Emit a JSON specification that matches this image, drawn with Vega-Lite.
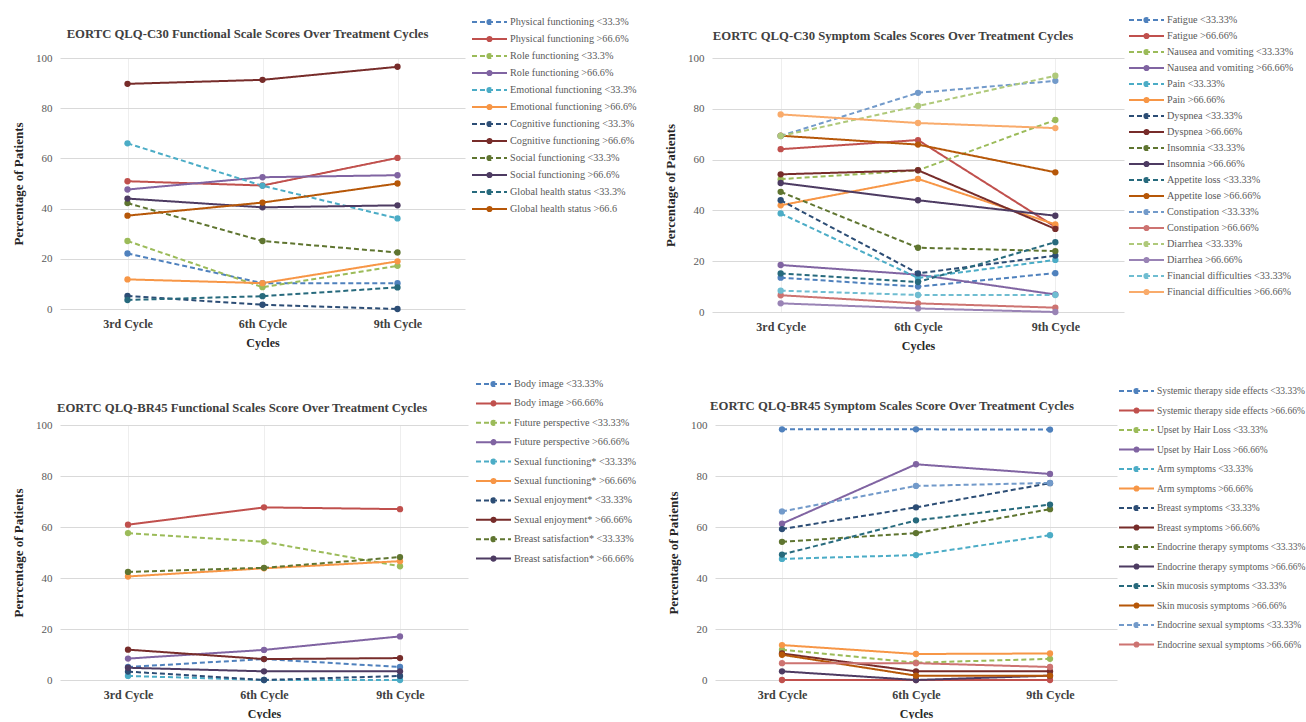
{
  "$schema": "https://vega.github.io/schema/vega-lite/v6.json",
  "background": "white",
  "padding": {"left": 12, "top": 14, "right": 0, "bottom": 0},
  "config": {
    "font": "Liberation Serif",
    "view": {"stroke": null},
    "axis": {"labelFont": "Liberation Serif", "labelFontSize": 11, "labelColor": "#595959", "titleFont": "Liberation Serif", "titleFontSize": 12, "titleFontWeight": "bold", "titleColor": "#262626", "gridColor": "#d9d9d9", "domain": false, "ticks": false},
    "axisX": {"labelFontWeight": "bold", "labelFontSize": 12, "labelColor": "#404040", "labelAngle": 0, "labelPadding": 9, "titlePadding": 8, "gridColor": "#eeeeee", "grid": true, "tickBand": "extent"},
    "axisY": {"labelPadding": 8, "titlePadding": 10, "titleFontSize": 13},
    "title": {"font": "Liberation Serif", "fontSize": 12.7, "fontWeight": "bold", "color": "#404040"},
    "legend": {"orient": "none", "title": null, "labelFont": "Liberation Serif", "labelFontSize": 10.2, "labelColor": "#595959", "symbolStrokeWidth": 2, "symbolSize": 1225, "clipHeight": 12, "labelOffset": 2, "padding": 0}
  },
  "datasets": {
    "p1": [
      {"series": "Physical functioning <33.3%", "cycle": "3rd Cycle", "value": 22.1}, {"series": "Physical functioning <33.3%", "cycle": "6th Cycle", "value": 10.3}, {"series": "Physical functioning <33.3%", "cycle": "9th Cycle", "value": 10.3},
      {"series": "Physical functioning >66.6%", "cycle": "3rd Cycle", "value": 50.9}, {"series": "Physical functioning >66.6%", "cycle": "6th Cycle", "value": 49.2}, {"series": "Physical functioning >66.6%", "cycle": "9th Cycle", "value": 60.2},
      {"series": "Role functioning <33.3%", "cycle": "3rd Cycle", "value": 27.1}, {"series": "Role functioning <33.3%", "cycle": "6th Cycle", "value": 8.7}, {"series": "Role functioning <33.3%", "cycle": "9th Cycle", "value": 17.2},
      {"series": "Role functioning >66.6%", "cycle": "3rd Cycle", "value": 47.6}, {"series": "Role functioning >66.6%", "cycle": "6th Cycle", "value": 52.5}, {"series": "Role functioning >66.6%", "cycle": "9th Cycle", "value": 53.3},
      {"series": "Emotional functioning <33.3%", "cycle": "3rd Cycle", "value": 66.0}, {"series": "Emotional functioning <33.3%", "cycle": "6th Cycle", "value": 49.1}, {"series": "Emotional functioning <33.3%", "cycle": "9th Cycle", "value": 36.1},
      {"series": "Emotional functioning >66.6%", "cycle": "3rd Cycle", "value": 11.8}, {"series": "Emotional functioning >66.6%", "cycle": "6th Cycle", "value": 10.3}, {"series": "Emotional functioning >66.6%", "cycle": "9th Cycle", "value": 19.0},
      {"series": "Cognitive functioning <33.3%", "cycle": "3rd Cycle", "value": 5.2}, {"series": "Cognitive functioning <33.3%", "cycle": "6th Cycle", "value": 1.7}, {"series": "Cognitive functioning <33.3%", "cycle": "9th Cycle", "value": 0},
      {"series": "Cognitive functioning >66.6%", "cycle": "3rd Cycle", "value": 89.7}, {"series": "Cognitive functioning >66.6%", "cycle": "6th Cycle", "value": 91.3}, {"series": "Cognitive functioning >66.6%", "cycle": "9th Cycle", "value": 96.5},
      {"series": "Social functioning <33.3%", "cycle": "3rd Cycle", "value": 42.2}, {"series": "Social functioning <33.3%", "cycle": "6th Cycle", "value": 27.1}, {"series": "Social functioning <33.3%", "cycle": "9th Cycle", "value": 22.5},
      {"series": "Social functioning >66.6%", "cycle": "3rd Cycle", "value": 44.0}, {"series": "Social functioning >66.6%", "cycle": "6th Cycle", "value": 40.5}, {"series": "Social functioning >66.6%", "cycle": "9th Cycle", "value": 41.3},
      {"series": "Global health status <33.3%", "cycle": "3rd Cycle", "value": 3.6}, {"series": "Global health status <33.3%", "cycle": "6th Cycle", "value": 5.1}, {"series": "Global health status <33.3%", "cycle": "9th Cycle", "value": 8.6},
      {"series": "Global health status >66.6", "cycle": "3rd Cycle", "value": 37.2}, {"series": "Global health status >66.6", "cycle": "6th Cycle", "value": 42.4}, {"series": "Global health status >66.6", "cycle": "9th Cycle", "value": 50.0}
    ],
    "p2": [
      {"series": "Fatigue <33.33%", "cycle": "3rd Cycle", "value": 13.5}, {"series": "Fatigue <33.33%", "cycle": "6th Cycle", "value": 10.0}, {"series": "Fatigue <33.33%", "cycle": "9th Cycle", "value": 15.3},
      {"series": "Fatigue >66.66%", "cycle": "3rd Cycle", "value": 64.1}, {"series": "Fatigue >66.66%", "cycle": "6th Cycle", "value": 67.7}, {"series": "Fatigue >66.66%", "cycle": "9th Cycle", "value": 33.5},
      {"series": "Nausea and vomiting <33.33%", "cycle": "3rd Cycle", "value": 52.3}, {"series": "Nausea and vomiting <33.33%", "cycle": "6th Cycle", "value": 55.8}, {"series": "Nausea and vomiting <33.33%", "cycle": "9th Cycle", "value": 75.6},
      {"series": "Nausea and vomiting >66.66%", "cycle": "3rd Cycle", "value": 18.5}, {"series": "Nausea and vomiting >66.66%", "cycle": "6th Cycle", "value": 14.7}, {"series": "Nausea and vomiting >66.66%", "cycle": "9th Cycle", "value": 6.9},
      {"series": "Pain <33.33%", "cycle": "3rd Cycle", "value": 38.8}, {"series": "Pain <33.33%", "cycle": "6th Cycle", "value": 13.4}, {"series": "Pain <33.33%", "cycle": "9th Cycle", "value": 20.5},
      {"series": "Pain >66.66%", "cycle": "3rd Cycle", "value": 42.0}, {"series": "Pain >66.66%", "cycle": "6th Cycle", "value": 52.4}, {"series": "Pain >66.66%", "cycle": "9th Cycle", "value": 34.5},
      {"series": "Dyspnea <33.33%", "cycle": "3rd Cycle", "value": 44.0}, {"series": "Dyspnea <33.33%", "cycle": "6th Cycle", "value": 15.2}, {"series": "Dyspnea <33.33%", "cycle": "9th Cycle", "value": 22.2},
      {"series": "Dyspnea >66.66%", "cycle": "3rd Cycle", "value": 54.2}, {"series": "Dyspnea >66.66%", "cycle": "6th Cycle", "value": 55.8}, {"series": "Dyspnea >66.66%", "cycle": "9th Cycle", "value": 32.7},
      {"series": "Insomnia <33.33%", "cycle": "3rd Cycle", "value": 47.3}, {"series": "Insomnia <33.33%", "cycle": "6th Cycle", "value": 25.3}, {"series": "Insomnia <33.33%", "cycle": "9th Cycle", "value": 24.0},
      {"series": "Insomnia >66.66%", "cycle": "3rd Cycle", "value": 50.8}, {"series": "Insomnia >66.66%", "cycle": "6th Cycle", "value": 44.0}, {"series": "Insomnia >66.66%", "cycle": "9th Cycle", "value": 37.9},
      {"series": "Appetite loss <33.33%", "cycle": "3rd Cycle", "value": 15.2}, {"series": "Appetite loss <33.33%", "cycle": "6th Cycle", "value": 11.8}, {"series": "Appetite loss <33.33%", "cycle": "9th Cycle", "value": 27.5},
      {"series": "Appetite lose >66.66%", "cycle": "3rd Cycle", "value": 69.4}, {"series": "Appetite lose >66.66%", "cycle": "6th Cycle", "value": 65.9}, {"series": "Appetite lose >66.66%", "cycle": "9th Cycle", "value": 55.0},
      {"series": "Constipation <33.33%", "cycle": "3rd Cycle", "value": 69.3}, {"series": "Constipation <33.33%", "cycle": "6th Cycle", "value": 86.3}, {"series": "Constipation <33.33%", "cycle": "9th Cycle", "value": 91.0},
      {"series": "Constipation >66.66%", "cycle": "3rd Cycle", "value": 6.6}, {"series": "Constipation >66.66%", "cycle": "6th Cycle", "value": 3.4}, {"series": "Constipation >66.66%", "cycle": "9th Cycle", "value": 1.7},
      {"series": "Diarrhea <33.33%", "cycle": "3rd Cycle", "value": 69.3}, {"series": "Diarrhea <33.33%", "cycle": "6th Cycle", "value": 81.1}, {"series": "Diarrhea <33.33%", "cycle": "9th Cycle", "value": 93.0},
      {"series": "Diarrhea >66.66%", "cycle": "3rd Cycle", "value": 3.4}, {"series": "Diarrhea >66.66%", "cycle": "6th Cycle", "value": 1.4}, {"series": "Diarrhea >66.66%", "cycle": "9th Cycle", "value": 0},
      {"series": "Financial difficulties <33.33%", "cycle": "3rd Cycle", "value": 8.4}, {"series": "Financial difficulties <33.33%", "cycle": "6th Cycle", "value": 6.7}, {"series": "Financial difficulties <33.33%", "cycle": "9th Cycle", "value": 6.7},
      {"series": "Financial difficulties >66.66%", "cycle": "3rd Cycle", "value": 77.8}, {"series": "Financial difficulties >66.66%", "cycle": "6th Cycle", "value": 74.4}, {"series": "Financial difficulties >66.66%", "cycle": "9th Cycle", "value": 72.4}
    ],
    "p3": [
      {"series": "Body image <33.33%", "cycle": "3rd Cycle", "value": 5.1}, {"series": "Body image <33.33%", "cycle": "6th Cycle", "value": 8.2}, {"series": "Body image <33.33%", "cycle": "9th Cycle", "value": 5.1},
      {"series": "Body image >66.66%", "cycle": "3rd Cycle", "value": 60.9}, {"series": "Body image >66.66%", "cycle": "6th Cycle", "value": 67.7}, {"series": "Body image >66.66%", "cycle": "9th Cycle", "value": 67.0},
      {"series": "Future perspective <33.33%", "cycle": "3rd Cycle", "value": 57.6}, {"series": "Future perspective <33.33%", "cycle": "6th Cycle", "value": 54.2}, {"series": "Future perspective <33.33%", "cycle": "9th Cycle", "value": 44.6},
      {"series": "Future perspective >66.66%", "cycle": "3rd Cycle", "value": 8.4}, {"series": "Future perspective >66.66%", "cycle": "6th Cycle", "value": 11.8}, {"series": "Future perspective >66.66%", "cycle": "9th Cycle", "value": 17.1},
      {"series": "Sexual functioning* <33.33%", "cycle": "3rd Cycle", "value": 1.6}, {"series": "Sexual functioning* <33.33%", "cycle": "6th Cycle", "value": 0}, {"series": "Sexual functioning* <33.33%", "cycle": "9th Cycle", "value": 0},
      {"series": "Sexual functioning* >66.66%", "cycle": "3rd Cycle", "value": 40.6}, {"series": "Sexual functioning* >66.66%", "cycle": "6th Cycle", "value": 43.8}, {"series": "Sexual functioning* >66.66%", "cycle": "9th Cycle", "value": 46.6},
      {"series": "Sexual enjoyment* <33.33%", "cycle": "3rd Cycle", "value": 3.3}, {"series": "Sexual enjoyment* <33.33%", "cycle": "6th Cycle", "value": 0}, {"series": "Sexual enjoyment* <33.33%", "cycle": "9th Cycle", "value": 1.6},
      {"series": "Sexual enjoyment* >66.66%", "cycle": "3rd Cycle", "value": 11.9}, {"series": "Sexual enjoyment* >66.66%", "cycle": "6th Cycle", "value": 8.2}, {"series": "Sexual enjoyment* >66.66%", "cycle": "9th Cycle", "value": 8.6},
      {"series": "Breast satisfaction* <33.33%", "cycle": "3rd Cycle", "value": 42.4}, {"series": "Breast satisfaction* <33.33%", "cycle": "6th Cycle", "value": 44.0}, {"series": "Breast satisfaction* <33.33%", "cycle": "9th Cycle", "value": 48.2},
      {"series": "Breast satisfaction* >66.66%", "cycle": "3rd Cycle", "value": 4.8}, {"series": "Breast satisfaction* >66.66%", "cycle": "6th Cycle", "value": 3.4}, {"series": "Breast satisfaction* >66.66%", "cycle": "9th Cycle", "value": 3.4}
    ],
    "p4": [
      {"series": "Systemic therapy side effects <33.33%", "cycle": "3rd Cycle", "value": 98.3}, {"series": "Systemic therapy side effects <33.33%", "cycle": "6th Cycle", "value": 98.3}, {"series": "Systemic therapy side effects <33.33%", "cycle": "9th Cycle", "value": 98.2},
      {"series": "Systemic therapy side effects >66.66%", "cycle": "3rd Cycle", "value": 0}, {"series": "Systemic therapy side effects >66.66%", "cycle": "6th Cycle", "value": 0}, {"series": "Systemic therapy side effects >66.66%", "cycle": "9th Cycle", "value": 0},
      {"series": "Upset by Hair Loss <33.33%", "cycle": "3rd Cycle", "value": 11.9}, {"series": "Upset by Hair Loss <33.33%", "cycle": "6th Cycle", "value": 6.8}, {"series": "Upset by Hair Loss <33.33%", "cycle": "9th Cycle", "value": 8.3},
      {"series": "Upset by Hair Loss >66.66%", "cycle": "3rd Cycle", "value": 61.3}, {"series": "Upset by Hair Loss >66.66%", "cycle": "6th Cycle", "value": 84.6}, {"series": "Upset by Hair Loss >66.66%", "cycle": "9th Cycle", "value": 80.8},
      {"series": "Arm symptoms <33.33%", "cycle": "3rd Cycle", "value": 47.5}, {"series": "Arm symptoms <33.33%", "cycle": "6th Cycle", "value": 49.0}, {"series": "Arm symptoms <33.33%", "cycle": "9th Cycle", "value": 56.8},
      {"series": "Arm symptoms >66.66%", "cycle": "3rd Cycle", "value": 13.7}, {"series": "Arm symptoms >66.66%", "cycle": "6th Cycle", "value": 10.2}, {"series": "Arm symptoms >66.66%", "cycle": "9th Cycle", "value": 10.4},
      {"series": "Breast symptoms <33.33%", "cycle": "3rd Cycle", "value": 59.2}, {"series": "Breast symptoms <33.33%", "cycle": "6th Cycle", "value": 67.7}, {"series": "Breast symptoms <33.33%", "cycle": "9th Cycle", "value": 77.2},
      {"series": "Breast symptoms >66.66%", "cycle": "3rd Cycle", "value": 10.4}, {"series": "Breast symptoms >66.66%", "cycle": "6th Cycle", "value": 3.4}, {"series": "Breast symptoms >66.66%", "cycle": "9th Cycle", "value": 3.4},
      {"series": "Endocrine therapy symptoms <33.33%", "cycle": "3rd Cycle", "value": 54.2}, {"series": "Endocrine therapy symptoms <33.33%", "cycle": "6th Cycle", "value": 57.6}, {"series": "Endocrine therapy symptoms <33.33%", "cycle": "9th Cycle", "value": 67.0},
      {"series": "Endocrine therapy symptoms >66.66%", "cycle": "3rd Cycle", "value": 3.4}, {"series": "Endocrine therapy symptoms >66.66%", "cycle": "6th Cycle", "value": 0}, {"series": "Endocrine therapy symptoms >66.66%", "cycle": "9th Cycle", "value": 1.7},
      {"series": "Skin mucosis symptoms <33.33%", "cycle": "3rd Cycle", "value": 49.2}, {"series": "Skin mucosis symptoms <33.33%", "cycle": "6th Cycle", "value": 62.6}, {"series": "Skin mucosis symptoms <33.33%", "cycle": "9th Cycle", "value": 68.8},
      {"series": "Skin mucosis symptoms >66.66%", "cycle": "3rd Cycle", "value": 9.9}, {"series": "Skin mucosis symptoms >66.66%", "cycle": "6th Cycle", "value": 1.7}, {"series": "Skin mucosis symptoms >66.66%", "cycle": "9th Cycle", "value": 1.7},
      {"series": "Endocrine sexual symptoms <33.33%", "cycle": "3rd Cycle", "value": 66.1}, {"series": "Endocrine sexual symptoms <33.33%", "cycle": "6th Cycle", "value": 76.1}, {"series": "Endocrine sexual symptoms <33.33%", "cycle": "9th Cycle", "value": 77.3},
      {"series": "Endocrine sexual symptoms >66.66%", "cycle": "3rd Cycle", "value": 6.6}, {"series": "Endocrine sexual symptoms >66.66%", "cycle": "6th Cycle", "value": 6.6}, {"series": "Endocrine sexual symptoms >66.66%", "cycle": "9th Cycle", "value": 5.1}
    ]
  },
  "resolve": {"scale": {"color": "independent", "strokeDash": "independent"}, "legend": {"color": "independent", "strokeDash": "independent"}},
  "spacing": 27,
  "vconcat": [
    {
      "spacing": 27,
      "resolve": {"scale": {"color": "independent", "strokeDash": "independent"}, "legend": {"color": "independent", "strokeDash": "independent"}},
      "hconcat": [
        {
          "width": 405, "height": 251,
          "title": {"text": "EORTC QLQ-C30 Functional Scale Scores Over Treatment Cycles", "offset": -25, "dx": -15},
          "data": {"name": "p1"},
          "mark": {"type": "line", "strokeWidth": 2, "point": {"filled": true, "size": 40}},
          "encoding": {
            "x": {"field": "cycle", "type": "ordinal", "sort": ["3rd Cycle", "6th Cycle", "9th Cycle"], "scale": {"paddingInner": 0, "paddingOuter": 0}, "axis": {"title": "Cycles"}},
            "y": {"field": "value", "type": "quantitative", "scale": {"domain": [0, 100]}, "axis": {"title": "Percentage of Patients", "values": [0, 20, 40, 60, 80, 100]}},
            "color": {"field": "series", "type": "nominal", "scale": {"domain": ["Physical functioning <33.3%", "Physical functioning >66.6%", "Role functioning <33.3%", "Role functioning >66.6%", "Emotional functioning <33.3%", "Emotional functioning >66.6%", "Cognitive functioning <33.3%", "Cognitive functioning >66.6%", "Social functioning <33.3%", "Social functioning >66.6%", "Global health status <33.3%", "Global health status >66.6"], "range": ["#4F81BD", "#C0504D", "#9BBB59", "#8064A2", "#4BACC6", "#F79646", "#2C4D75", "#772C2A", "#5F7530", "#4D3B62", "#276A7D", "#B65708"]}, "legend": {"legendX": 411, "legendY": -42, "symbolType": "M-1,0L1,0M-0.12,0A0.12,0.12,0,1,1,0.12,0A0.12,0.12,0,1,1,-0.12,0", "rowPadding": 5}},
            "strokeDash": {"field": "series", "type": "nominal", "scale": {"domain": ["Physical functioning <33.3%", "Physical functioning >66.6%", "Role functioning <33.3%", "Role functioning >66.6%", "Emotional functioning <33.3%", "Emotional functioning >66.6%", "Cognitive functioning <33.3%", "Cognitive functioning >66.6%", "Social functioning <33.3%", "Social functioning >66.6%", "Global health status <33.3%", "Global health status >66.6"], "range": [[5, 3], [1, 0], [5, 3], [1, 0], [5, 3], [1, 0], [5, 3], [1, 0], [5, 3], [1, 0], [5, 3], [1, 0]]}, "legend": {"legendX": 411, "legendY": -42, "symbolType": "M-1,0L1,0M-0.12,0A0.12,0.12,0,1,1,0.12,0A0.12,0.12,0,1,1,-0.12,0", "rowPadding": 5}}
          }
        },
        {
          "width": 412, "height": 254,
          "title": {"text": "EORTC QLQ-C30 Symptom Scales Scores Over Treatment Cycles", "offset": -29, "dx": -25},
          "data": {"name": "p2"},
          "mark": {"type": "line", "strokeWidth": 2, "point": {"filled": true, "size": 40}},
          "encoding": {
            "x": {"field": "cycle", "type": "ordinal", "sort": ["3rd Cycle", "6th Cycle", "9th Cycle"], "scale": {"paddingInner": 0, "paddingOuter": 0}, "axis": {"title": "Cycles"}},
            "y": {"field": "value", "type": "quantitative", "scale": {"domain": [0, 100]}, "axis": {"title": "Percentage of Patients", "values": [0, 20, 40, 60, 80, 100]}},
            "color": {"field": "series", "type": "nominal", "scale": {"domain": ["Fatigue <33.33%", "Fatigue >66.66%", "Nausea and vomiting <33.33%", "Nausea and vomiting >66.66%", "Pain <33.33%", "Pain >66.66%", "Dyspnea <33.33%", "Dyspnea >66.66%", "Insomnia <33.33%", "Insomnia >66.66%", "Appetite loss <33.33%", "Appetite lose >66.66%", "Constipation <33.33%", "Constipation >66.66%", "Diarrhea <33.33%", "Diarrhea >66.66%", "Financial difficulties <33.33%", "Financial difficulties >66.66%"], "range": ["#4F81BD", "#C0504D", "#9BBB59", "#8064A2", "#4BACC6", "#F79646", "#2C4D75", "#772C2A", "#5F7530", "#4D3B62", "#276A7D", "#B65708", "#729ACA", "#CD7371", "#AFC97A", "#9983B5", "#6FBDD1", "#F9AB6B"]}, "legend": {"legendX": 416, "legendY": -44, "symbolType": "M-1,0L1,0M-0.12,0A0.12,0.12,0,1,1,0.12,0A0.12,0.12,0,1,1,-0.12,0", "rowPadding": 4}},
            "strokeDash": {"field": "series", "type": "nominal", "scale": {"domain": ["Fatigue <33.33%", "Fatigue >66.66%", "Nausea and vomiting <33.33%", "Nausea and vomiting >66.66%", "Pain <33.33%", "Pain >66.66%", "Dyspnea <33.33%", "Dyspnea >66.66%", "Insomnia <33.33%", "Insomnia >66.66%", "Appetite loss <33.33%", "Appetite lose >66.66%", "Constipation <33.33%", "Constipation >66.66%", "Diarrhea <33.33%", "Diarrhea >66.66%", "Financial difficulties <33.33%", "Financial difficulties >66.66%"], "range": [[5, 3], [1, 0], [5, 3], [1, 0], [5, 3], [1, 0], [5, 3], [1, 0], [5, 3], [1, 0], [5, 3], [1, 0], [5, 3], [1, 0], [5, 3], [1, 0], [5, 3], [1, 0]]}, "legend": {"legendX": 416, "legendY": -44, "symbolType": "M-1,0L1,0M-0.12,0A0.12,0.12,0,1,1,0.12,0A0.12,0.12,0,1,1,-0.12,0", "rowPadding": 4}}
          }
        }
      ]
    },
    {
      "spacing": 30,
      "resolve": {"scale": {"color": "independent", "strokeDash": "independent"}, "legend": {"color": "independent", "strokeDash": "independent"}},
      "hconcat": [
        {
          "width": 408, "height": 255,
          "title": {"text": "EORTC QLQ-BR45 Functional Scales Score Over Treatment Cycles", "offset": -37, "dx": -22},
          "data": {"name": "p3"},
          "mark": {"type": "line", "strokeWidth": 2, "point": {"filled": true, "size": 40}},
          "encoding": {
            "x": {"field": "cycle", "type": "ordinal", "sort": ["3rd Cycle", "6th Cycle", "9th Cycle"], "scale": {"paddingInner": 0, "paddingOuter": 0}, "axis": {"title": "Cycles"}},
            "y": {"field": "value", "type": "quantitative", "scale": {"domain": [0, 100]}, "axis": {"title": "Perrcentage of Patients", "values": [0, 20, 40, 60, 80, 100]}},
            "color": {"field": "series", "type": "nominal", "scale": {"domain": ["Body image <33.33%", "Body image >66.66%", "Future perspective <33.33%", "Future perspective >66.66%", "Sexual functioning* <33.33%", "Sexual functioning* >66.66%", "Sexual enjoyment* <33.33%", "Sexual enjoyment* >66.66%", "Breast satisfaction* <33.33%", "Breast satisfaction* >66.66%"], "range": ["#4F81BD", "#C0504D", "#9BBB59", "#8064A2", "#4BACC6", "#F79646", "#2C4D75", "#772C2A", "#5F7530", "#4D3B62"]}, "legend": {"legendX": 415, "legendY": -47, "symbolType": "M-1,0L1,0M-0.12,0A0.12,0.12,0,1,1,0.12,0A0.12,0.12,0,1,1,-0.12,0", "rowPadding": 7.4}},
            "strokeDash": {"field": "series", "type": "nominal", "scale": {"domain": ["Body image <33.33%", "Body image >66.66%", "Future perspective <33.33%", "Future perspective >66.66%", "Sexual functioning* <33.33%", "Sexual functioning* >66.66%", "Sexual enjoyment* <33.33%", "Sexual enjoyment* >66.66%", "Breast satisfaction* <33.33%", "Breast satisfaction* >66.66%"], "range": [[5, 3], [1, 0], [5, 3], [1, 0], [5, 3], [1, 0], [5, 3], [1, 0], [5, 3], [1, 0]]}, "legend": {"legendX": 415, "legendY": -47, "symbolType": "M-1,0L1,0M-0.12,0A0.12,0.12,0,1,1,0.12,0A0.12,0.12,0,1,1,-0.12,0", "rowPadding": 7.4}}
          }
        },
        {
          "width": 402, "height": 255,
          "title": {"text": "EORTC QLQ-BR45 Symptom Scales Score Over Treatment Cycles", "offset": -28, "dx": -24},
          "data": {"name": "p4"},
          "mark": {"type": "line", "strokeWidth": 2, "point": {"filled": true, "size": 40}},
          "encoding": {
            "x": {"field": "cycle", "type": "ordinal", "sort": ["3rd Cycle", "6th Cycle", "9th Cycle"], "scale": {"paddingInner": 0, "paddingOuter": 0}, "axis": {"title": "Cycles"}},
            "y": {"field": "value", "type": "quantitative", "scale": {"domain": [0, 100]}, "axis": {"title": "Percentage of Patients", "values": [0, 20, 40, 60, 80, 100]}},
            "color": {"field": "series", "type": "nominal", "scale": {"domain": ["Systemic therapy side effects <33.33%", "Systemic therapy side effects >66.66%", "Upset by Hair Loss <33.33%", "Upset by Hair Loss >66.66%", "Arm symptoms <33.33%", "Arm symptoms >66.66%", "Breast symptoms <33.33%", "Breast symptoms >66.66%", "Endocrine therapy symptoms <33.33%", "Endocrine therapy symptoms >66.66%", "Skin mucosis symptoms <33.33%", "Skin mucosis symptoms >66.66%", "Endocrine sexual symptoms <33.33%", "Endocrine sexual symptoms >66.66%"], "range": ["#4F81BD", "#C0504D", "#9BBB59", "#8064A2", "#4BACC6", "#F79646", "#2C4D75", "#772C2A", "#5F7530", "#4D3B62", "#276A7D", "#B65708", "#729ACA", "#CD7371"]}, "legend": {"legendX": 403, "legendY": -40, "labelFontSize": 9.5, "symbolType": "M-1,0L1,0M-0.12,0A0.12,0.12,0,1,1,0.12,0A0.12,0.12,0,1,1,-0.12,0", "rowPadding": 7.5}},
            "strokeDash": {"field": "series", "type": "nominal", "scale": {"domain": ["Systemic therapy side effects <33.33%", "Systemic therapy side effects >66.66%", "Upset by Hair Loss <33.33%", "Upset by Hair Loss >66.66%", "Arm symptoms <33.33%", "Arm symptoms >66.66%", "Breast symptoms <33.33%", "Breast symptoms >66.66%", "Endocrine therapy symptoms <33.33%", "Endocrine therapy symptoms >66.66%", "Skin mucosis symptoms <33.33%", "Skin mucosis symptoms >66.66%", "Endocrine sexual symptoms <33.33%", "Endocrine sexual symptoms >66.66%"], "range": [[5, 3], [1, 0], [5, 3], [1, 0], [5, 3], [1, 0], [5, 3], [1, 0], [5, 3], [1, 0], [5, 3], [1, 0], [5, 3], [1, 0]]}, "legend": {"legendX": 403, "legendY": -40, "labelFontSize": 9.5, "symbolType": "M-1,0L1,0M-0.12,0A0.12,0.12,0,1,1,0.12,0A0.12,0.12,0,1,1,-0.12,0", "rowPadding": 7.5}}
          }
        }
      ]
    }
  ]
}
